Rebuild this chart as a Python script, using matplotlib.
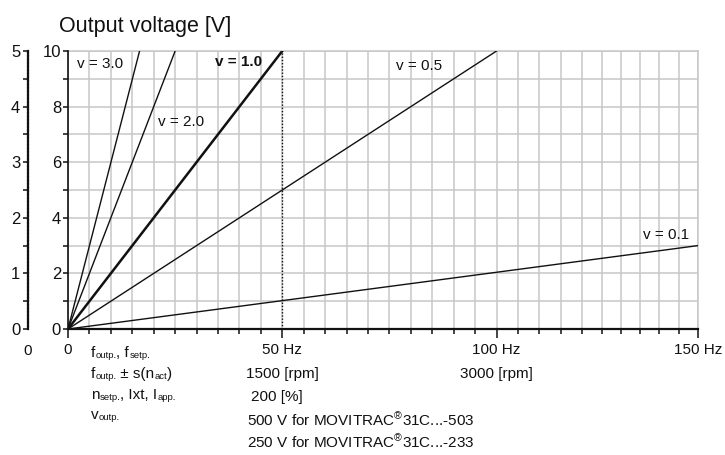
import numpy as np
import matplotlib.pyplot as plt
from matplotlib.ticker import MultipleLocator, FixedLocator, FixedFormatter

plt.rcParams['font.family'] = ['Liberation Sans', 'DejaVu Sans']
plt.rcParams['mathtext.fontset'] = 'custom'
plt.rcParams['mathtext.rm'] = 'Liberation Sans'
plt.rcParams['mathtext.it'] = 'Liberation Sans'

# V/f ratio of each characteristic and the point where its line ends
ratios = ['3.0', '2.0', '1.0', '0.5', '0.1']
f_end = [16.7, 25, 50, 100, 150]      # Hz
u_end = [10, 10, 10, 10, 3]           # output voltage scale 0..10

x_ticks = [0, 50, 100, 150]
x_ticklabels = ['0', '50 Hz', '100 Hz', '150 Hz']
rpm_hz = [50, 100]
rpm_labels = ['1500 [rpm]', '3000 [rpm]']

# where the ratio labels go (x in Hz, y in V, horizontal alignment)
label_pos = [(2.1, 9.39, 'left'), (21.0, 7.30, 'left'), (34.3, 9.46, 'left'),
             (76.5, 9.32, 'left'), (147.7, 3.24, 'right')]

W, H = 725, 455
grid_c = '#c8c8c8'
ink = '#111111'
fs = 11


def px(x, y):
    return x / W, 1 - y / H


# the sheet squeezes the last 30 Hz a little
def fwd(f):
    f = np.asarray(f, dtype=float)
    return np.where(f <= 120, f, 120 + (f - 120) * 0.9)


def inv(s):
    s = np.asarray(s, dtype=float)
    return np.where(s <= 120, s, 120 + (s - 120) / 0.9)


fig = plt.figure(figsize=(W / 100, H / 100), dpi=100)
ax = fig.add_axes([68 / W, 126 / H, 630 / W, 278 / H])
ax.set_xscale('function', functions=(fwd, inv))
ax.set_xlim(0, 150)
ax.set_ylim(0, 10)

# grid
ax.xaxis.set_major_locator(FixedLocator(x_ticks))
ax.xaxis.set_major_formatter(FixedFormatter(x_ticklabels))
ax.xaxis.set_minor_locator(MultipleLocator(5))
ax.yaxis.set_major_locator(MultipleLocator(2))
ax.yaxis.set_minor_locator(MultipleLocator(1))
ax.grid(True, which='both', color=grid_c, lw=1.1, zorder=0)
ax.axhline(10, color=grid_c, lw=1.1, clip_on=False, zorder=0)
ax.axvline(150, color=grid_c, lw=1.1, clip_on=False, zorder=0)
ax.set_axisbelow(True)

for s in ['top', 'right']:
    ax.spines[s].set_visible(False)
ax.spines['bottom'].set_linewidth(1.6)
ax.spines['left'].set_linewidth(1.2)
ax.spines['bottom'].set_color(ink)
ax.spines['left'].set_color(ink)

ax.tick_params(axis='x', which='major', length=6.5, width=1.1, pad=3.5, labelsize=fs, colors=ink)
ax.tick_params(axis='x', which='minor', length=3.5, width=1.1, colors=ink)
ax.tick_params(axis='y', which='both', length=3.5, width=1.1, pad=1.5, labelsize=12, colors=ink)

# second voltage scale 0..5
sec = ax.secondary_yaxis(-40 / 630, functions=(lambda y: y / 2, lambda y: y * 2))
sec.yaxis.set_major_locator(MultipleLocator(1))
sec.yaxis.set_minor_locator(MultipleLocator(0.5))
sec.tick_params(which='both', length=3.5, width=1.1, pad=2, labelsize=12, colors=ink)
sec.spines['left'].set_linewidth(1.6)
sec.spines['left'].set_linestyle((0, (1, 0.6)))
sec.spines['left'].set_color(ink)

# 50 Hz marker
ax.plot([50, 50], [0, 10], color=ink, lw=1.0, ls=(0, (1, 1.3)), zorder=3)

# V/f characteristics
for r, fe, ue, (lx, ly, ha) in zip(ratios, f_end, u_end, label_pos):
    bold = r == '1.0'
    ax.plot([0, fe], [0, ue], color=ink, lw=1.8 if bold else 1.0, zorder=4)
    ax.text(lx, ly, f'v = {r}', fontsize=fs, ha=ha, va='baseline', color=ink,
            fontweight='bold' if bold else 'normal')

fig.text(*px(59, 32), 'Output voltage [V]', fontsize=15.5, va='baseline', color=ink)
fig.text(*px(28, 355), '0', fontsize=fs, ha='center', va='baseline', color=ink)


def chain(x, y, parts):
    # text pieces laid one after another; flagged pieces are small subscripts
    t = ax.text(*px(x, y), parts[0][0], transform=fig.transFigure,
                fontsize=fs, va='bottom', color=ink)
    for s, sub in parts[1:]:
        t = ax.annotate(s, xy=(1, 0), xycoords=t, fontsize=6.8 if sub else fs,
                        va='bottom', ha='left', color=ink, annotation_clip=False)


# rows under the frequency axis (y is the bottom of each text box)
chain(91, 360, [('f', 0), ('outp.', 1), (', f', 0), ('setp.', 1)])
chain(91, 381, [('f', 0), ('outp.', 1), (' ± s(n', 0), ('act', 1), (')', 0)])
chain(91, 402, [('n', 0), ('setp.', 1), (', Ixt, I', 0), ('app.', 1)])
chain(91, 422, [('v', 0), ('outp.', 1)])

xt = ax.get_xaxis_transform()
for hz, t in zip(rpm_hz, rpm_labels):
    ax.text(hz, -49 / 278, t, transform=xt, fontsize=fs, ha='center', va='baseline', color=ink)
fig.text(*px(251, 401), '200 [%]', fontsize=fs, va='baseline', color=ink)
fig.text(*px(247, 426), r'500 V for MOVITRAC$^{®}$31C...-503', fontsize=fs, va='baseline', color=ink)
fig.text(*px(247, 448), r'250 V for MOVITRAC$^{®}$31C...-233', fontsize=fs, va='baseline', color=ink)

fig.savefig('out.png', dpi=100)
